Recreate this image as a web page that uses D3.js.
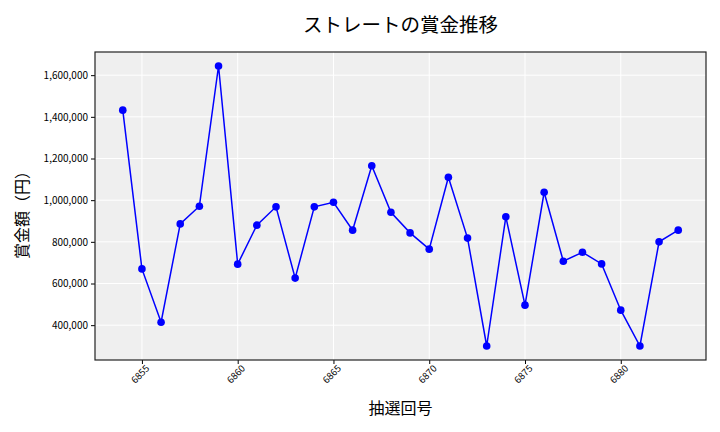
<!DOCTYPE html>
<html>
<head>
<meta charset="utf-8">
<script src="https://cdn.jsdelivr.net/npm/d3@7"></script>
<style>
  body { margin: 0; background: #fff; }
  text { font-family: "Noto Sans CJK JP", "DejaVu Sans", sans-serif; }
</style>
</head>
<body>
<div id="chart"></div>
<script>
// draw numbers (x) and prize amounts (y)
var draws = [6854, 6855, 6856, 6857, 6858, 6859, 6860, 6861, 6862, 6863,
             6864, 6865, 6866, 6867, 6868, 6869, 6870, 6871, 6872, 6873,
             6874, 6875, 6876, 6877, 6878, 6879, 6880, 6881, 6882, 6883];
var prizes = [1432000, 670000, 414000, 886000, 971000, 1644000, 693000, 880000, 968000, 626000,
              968000, 990000, 856000, 1165000, 942000, 843000, 765000, 1110000, 818000, 300000,
              920000, 496000, 1038000, 707000, 750000, 694000, 472000, 300000, 800000, 856000];
var xTicks = [6855, 6860, 6865, 6870, 6875, 6880];
var yTicks = [400000, 600000, 800000, 1000000, 1200000, 1400000, 1600000];

var width = 720, height = 432;
var plotLeft = 95, plotRight = 706, plotTop = 52, plotBottom = 360;

var svg = d3.select("#chart").append("svg")
	.attr("width", width)
	.attr("height", height);

// matplotlib-like 5% padding on both axes
var xPad = (d3.max(draws) - d3.min(draws)) * 0.05;
var xScale = d3.scaleLinear()
	.domain([d3.min(draws) - xPad, d3.max(draws) + xPad])
	.range([plotLeft, plotRight]);
var yPad = (d3.max(prizes) - d3.min(prizes)) * 0.05;
var yScale = d3.scaleLinear()
	.domain([d3.min(prizes) - yPad, d3.max(prizes) + yPad])
	.range([plotBottom, plotTop]);

// plot background
svg.append("rect")
	.attr("x", plotLeft).attr("y", plotTop)
	.attr("width", plotRight - plotLeft).attr("height", plotBottom - plotTop)
	.attr("fill", "#efefef");

// grid
svg.append("g").selectAll("line")
	.data(xTicks)
	.enter().append("line")
	.attr("x1", function(d) { return xScale(d); })
	.attr("x2", function(d) { return xScale(d); })
	.attr("y1", plotTop).attr("y2", plotBottom)
	.attr("stroke", "#fff").attr("stroke-width", 1);
svg.append("g").selectAll("line")
	.data(yTicks)
	.enter().append("line")
	.attr("y1", function(d) { return yScale(d); })
	.attr("y2", function(d) { return yScale(d); })
	.attr("x1", plotLeft).attr("x2", plotRight)
	.attr("stroke", "#fff").attr("stroke-width", 1);

// axes
var xAxis = d3.axisBottom(xScale).tickValues(xTicks).tickSize(4).tickPadding(3).tickFormat(d3.format("d"));
var gx = svg.append("g")
	.attr("transform", "translate(0," + plotBottom + ")")
	.call(xAxis);
gx.select(".domain").remove();
gx.selectAll("text")
	.attr("font-size", 9.5)
	.attr("fill", "#000")
	.style("text-anchor", "end")
	.attr("dx", "-0.1em")
	.attr("dy", "0.5em")
	.attr("transform", "rotate(-45)");

var yAxis = d3.axisLeft(yScale).tickValues(yTicks).tickSize(4).tickPadding(3).tickFormat(d3.format(","));
var gy = svg.append("g")
	.attr("transform", "translate(" + plotLeft + ",0)")
	.call(yAxis);
gy.select(".domain").remove();
gy.selectAll("text").attr("font-size", 10).attr("fill", "#000");

// frame
svg.append("rect")
	.attr("x", plotLeft).attr("y", plotTop)
	.attr("width", plotRight - plotLeft).attr("height", plotBottom - plotTop)
	.attr("fill", "none").attr("stroke", "#222").attr("stroke-width", 1.2);

// line + markers
var line = d3.line()
	.x(function(d, i) { return xScale(draws[i]); })
	.y(function(d) { return yScale(d); });
svg.append("path")
	.datum(prizes)
	.attr("d", line)
	.attr("fill", "none")
	.attr("stroke", "#0000ff")
	.attr("stroke-width", 1.5);
svg.append("g").selectAll("circle")
	.data(prizes)
	.enter().append("circle")
	.attr("cx", function(d, i) { return xScale(draws[i]); })
	.attr("cy", function(d) { return yScale(d); })
	.attr("r", 3.8)
	.attr("fill", "#0000ff");

// titles
svg.append("text")
	.attr("x", (plotLeft + plotRight) / 2).attr("y", 32)
	.attr("text-anchor", "middle")
	.attr("font-size", 19.5)
	.text("ストレートの賞金推移");
svg.append("text")
	.attr("x", (plotLeft + plotRight) / 2).attr("y", 414)
	.attr("text-anchor", "middle")
	.attr("font-size", 16)
	.text("抽選回号");
svg.append("text")
	.attr("transform", "translate(28,211) rotate(-90)")
	.attr("text-anchor", "middle")
	.attr("font-size", 16)
	.text("賞金額（円）");
</script>
</body>
</html>
